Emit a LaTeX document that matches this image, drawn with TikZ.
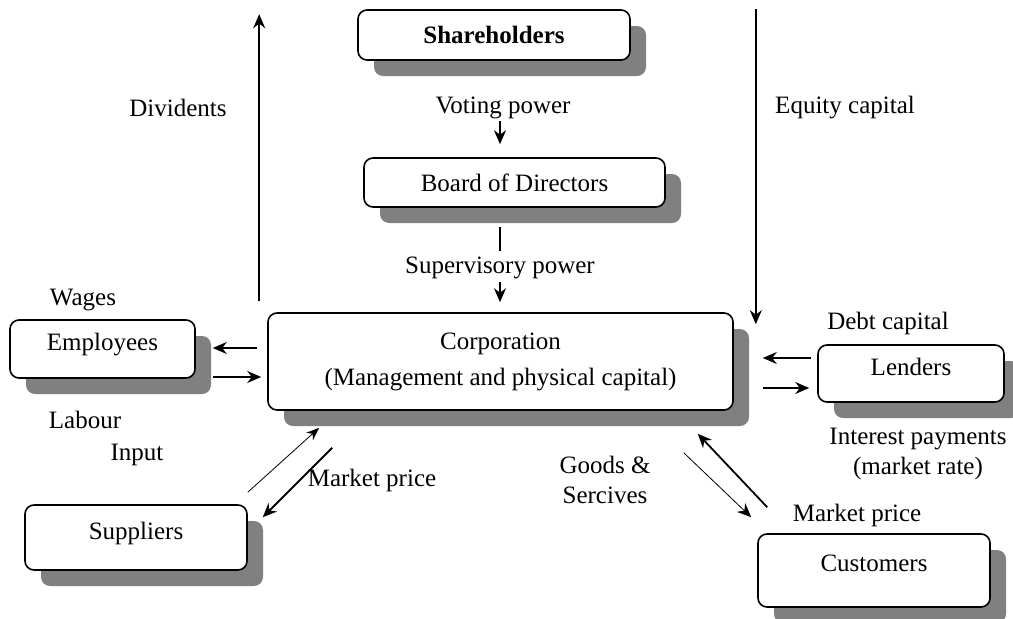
\documentclass[tikz,border=0pt]{standalone}
\usepackage{fontspec}
\setmainfont{Liberation Serif}
\usetikzlibrary{positioning,arrows.meta,shadows}

\begin{document}
\begin{tikzpicture}[x=1pt,y=-1pt,
  every node/.style={font=\fontsize{25}{30}\selectfont},
  party/.style={draw,rounded corners=9pt,line width=1.6pt,fill=white,inner sep=0pt,
    drop shadow={shadow xshift=16pt,shadow yshift=-16pt,fill=black!50,opacity=1}},
  lowtext/.style={text depth=14pt},
  arr/.style={-{Stealth[length=14pt,width=12pt]},line width=1.8pt},
  thinarr/.style={-{Stealth[length=13pt,width=10pt]},line width=0.8pt}]
\useasboundingbox (0,0) rectangle (1013,619);

\node[party,minimum width=272pt,minimum height=50pt] (sh) at (494,35) {\textbf{Shareholders}};
\node[party,minimum width=301pt,minimum height=49pt] (bod) at (514.5,182.5) {Board of Directors};
\node[party,minimum width=465pt,minimum height=97pt,align=center] (corp) at (500.5,361.5) {Corporation\\[6pt](Management and physical capital)};
\node[party,lowtext,minimum width=185pt,minimum height=58pt] (emp) at (102.5,349) {Employees};
\node[party,lowtext,minimum width=186pt,minimum height=57pt] (lend) at (911,373.5) {Lenders};
\node[party,lowtext,minimum width=222pt,minimum height=65pt] (sup) at (136,537.5) {Suppliers};
\node[party,lowtext,minimum width=232pt,minimum height=73pt] (cust) at (874,570.5) {Customers};

\node (div) at (178,108) {Dividents};
\node (vote) at (503,108) {Voting power};
\node (equity) at (845,108) {Equity capital};
\node (superv) at (500,268) {Supervisory power};
\node (wages) at (83,300) {Wages};
\node (labour) at (85,420) {Labour};
\node (debt) at (888,323) {Debt capital};
\node[align=center] (interest) at (918,454) {Interest payments\\(market rate)};
\node (input) at (137,455) {Input};
\node (price1) at (372,480) {Market price};
\node[align=center] (goods) at (605,480) {Goods \&\\Sercives};
\node (price2) at (857,515) {Market price};

\draw[arr] ([xshift=-8pt,yshift=11pt]corp.north west) -- ([xshift=-8pt,yshift=298pt]corp.north west);
\draw[arr] ([xshift=22pt,yshift=303pt]corp.north east) -- ([xshift=22pt,yshift=-12pt]corp.north east);
\draw[arr] ([xshift=-14.5pt,yshift=36pt]bod.north) -- ([xshift=-14.5pt,yshift=13pt]bod.north);
\draw[line width=1.6pt] ([xshift=-14.5pt,yshift=-19pt]bod.south) -- ([xshift=-14.5pt,yshift=-43pt]bod.south);
\draw[arr] ([xshift=-0.5pt,yshift=30pt]corp.north) -- ([xshift=-0.5pt,yshift=10pt]corp.north);
\draw[arr] ([xshift=-10pt,yshift=13.5pt]corp.west) -- ([xshift=17pt,yshift=1pt]emp.east);
\draw[arr] ([xshift=17pt,yshift=-28pt]emp.east) -- ([xshift=-6pt,yshift=-15.5pt]corp.west);
\draw[arr] ([xshift=-6pt,yshift=15.5pt]lend.west) -- ([xshift=29pt,yshift=3.5pt]corp.east);
\draw[arr] ([xshift=29pt,yshift=-26.5pt]corp.east) -- ([xshift=-8pt,yshift=-14.5pt]lend.west);
\draw[thinarr] ([yshift=12pt]sup.north east) -- ([xshift=52pt,yshift=-17pt]corp.south west);
\draw[arr] ([xshift=65pt,yshift=-37pt]corp.south west) -- ([xshift=15pt,yshift=-13pt]sup.north east);
\draw[thinarr,-{Stealth[length=14pt,width=12pt]}] ([xshift=-50pt,yshift=-42pt]corp.south east) -- ([xshift=-6pt,yshift=16pt]cust.north west);
\draw[arr] ([xshift=10pt,yshift=26pt]cust.north west) -- ([xshift=-36pt,yshift=-23pt]corp.south east);
\end{tikzpicture}
\end{document}
